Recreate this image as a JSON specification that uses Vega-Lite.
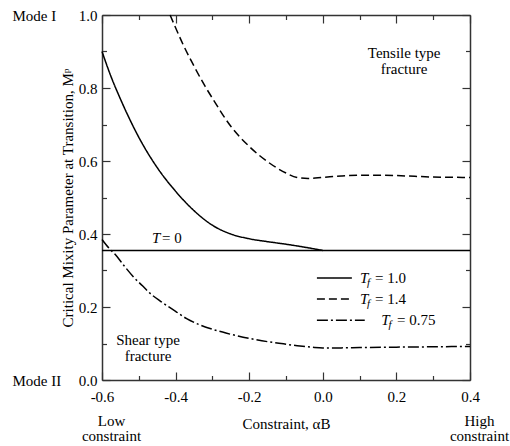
{
  "$schema": "https://vega.github.io/schema/vega-lite/v6.json",
  "width": 368,
  "height": 365,
  "autosize": "none",
  "padding": {"left": 102, "top": 15, "right": 40, "bottom": 66},
  "config": {
    "view": {"stroke": null},
    "font": "Liberation Serif",
    "style": {
      "guide-label": {"font": "Liberation Serif", "fontSize": 15, "fill": "black"},
      "guide-title": {"font": "Liberation Serif", "fontSize": 15, "fontWeight": "normal", "fill": "black"}
    },
    "axis": {
      "labelFont": "Liberation Serif", "labelFontSize": 15, "labelColor": "black",
      "titleFont": "Liberation Serif", "titleFontSize": 15, "titleFontWeight": "normal", "titleColor": "black",
      "domainColor": "#333", "domainWidth": 1.5, "tickColor": "#333", "tickWidth": 1.2, "grid": false
    },
    "text": {"font": "Liberation Serif", "fontSize": 15, "color": "black"}
  },
  "datasets": {
    "curves": [
      {"s": "a", "g": "a", "x": -0.6, "y": 0.9},
      {"s": "a", "g": "a", "x": -0.575, "y": 0.83},
      {"s": "a", "g": "a", "x": -0.55, "y": 0.77},
      {"s": "a", "g": "a", "x": -0.525, "y": 0.715},
      {"s": "a", "g": "a", "x": -0.5, "y": 0.665},
      {"s": "a", "g": "a", "x": -0.45, "y": 0.582},
      {"s": "a", "g": "a", "x": -0.4, "y": 0.517},
      {"s": "a", "g": "a", "x": -0.35, "y": 0.464},
      {"s": "a", "g": "a", "x": -0.3, "y": 0.424},
      {"s": "a", "g": "a", "x": -0.25, "y": 0.4},
      {"s": "a", "g": "a", "x": -0.2, "y": 0.387},
      {"s": "a", "g": "a", "x": -0.15, "y": 0.379},
      {"s": "a", "g": "a", "x": -0.1, "y": 0.372},
      {"s": "a", "g": "a", "x": -0.05, "y": 0.364},
      {"s": "a", "g": "a", "x": 0.0, "y": 0.355},
      {"s": "b", "g": "b", "x": -0.415, "y": 1.0},
      {"s": "b", "g": "b", "x": -0.4, "y": 0.965},
      {"s": "b", "g": "b", "x": -0.38, "y": 0.92},
      {"s": "b", "g": "b", "x": -0.35, "y": 0.86},
      {"s": "b", "g": "b", "x": -0.32, "y": 0.805},
      {"s": "b", "g": "b", "x": -0.3, "y": 0.772},
      {"s": "b", "g": "b", "x": -0.25, "y": 0.695},
      {"s": "b", "g": "b", "x": -0.2, "y": 0.64},
      {"s": "b", "g": "b", "x": -0.15, "y": 0.598},
      {"s": "b", "g": "b", "x": -0.1, "y": 0.567},
      {"s": "b", "g": "b", "x": -0.07, "y": 0.555},
      {"s": "b", "g": "b", "x": -0.04, "y": 0.552},
      {"s": "b", "g": "b", "x": 0.0, "y": 0.555},
      {"s": "b", "g": "b", "x": 0.05, "y": 0.559},
      {"s": "b", "g": "b", "x": 0.1, "y": 0.561},
      {"s": "b", "g": "b", "x": 0.15, "y": 0.561},
      {"s": "b", "g": "b", "x": 0.2, "y": 0.56},
      {"s": "b", "g": "b", "x": 0.25, "y": 0.558},
      {"s": "b", "g": "b", "x": 0.3, "y": 0.556},
      {"s": "b", "g": "b", "x": 0.4, "y": 0.555},
      {"s": "c", "g": "c", "x": -0.6, "y": 0.385},
      {"s": "c", "g": "c", "x": -0.58, "y": 0.36},
      {"s": "c", "g": "c", "x": -0.565, "y": 0.345},
      {"s": "c", "g": "c", "x": -0.54, "y": 0.313},
      {"s": "c", "g": "c", "x": -0.515, "y": 0.283},
      {"s": "c", "g": "c", "x": -0.49, "y": 0.258},
      {"s": "c", "g": "c", "x": -0.47, "y": 0.238},
      {"s": "c", "g": "c", "x": -0.44, "y": 0.215},
      {"s": "c", "g": "c", "x": -0.4, "y": 0.188},
      {"s": "c", "g": "c", "x": -0.37, "y": 0.168},
      {"s": "c", "g": "c", "x": -0.334, "y": 0.151},
      {"s": "c", "g": "c", "x": -0.3, "y": 0.139},
      {"s": "c", "g": "c", "x": -0.261, "y": 0.128},
      {"s": "c", "g": "c", "x": -0.2, "y": 0.114},
      {"s": "c", "g": "c", "x": -0.15, "y": 0.105},
      {"s": "c", "g": "c", "x": -0.107, "y": 0.099},
      {"s": "c", "g": "c", "x": -0.062, "y": 0.093},
      {"s": "c", "g": "c", "x": -0.03, "y": 0.09},
      {"s": "c", "g": "c", "x": 0.0, "y": 0.088},
      {"s": "c", "g": "c", "x": 0.05, "y": 0.088},
      {"s": "c", "g": "c", "x": 0.1, "y": 0.089},
      {"s": "c", "g": "c", "x": 0.2, "y": 0.09},
      {"s": "c", "g": "c", "x": 0.3, "y": 0.091},
      {"s": "c", "g": "c", "x": 0.4, "y": 0.092},
      {"s": "z", "g": "z", "x": -0.6, "y": 0.355},
      {"s": "z", "g": "z", "x": 0.4, "y": 0.355},
      {"s": "a", "g": "La", "x": -0.016, "y": 0.2795},
      {"s": "a", "g": "La", "x": 0.079, "y": 0.2795},
      {"s": "b", "g": "Lb", "x": -0.016, "y": 0.222},
      {"s": "b", "g": "Lb", "x": 0.079, "y": 0.222},
      {"s": "c", "g": "Lc", "x": -0.016, "y": 0.164},
      {"s": "c", "g": "Lc", "x": 0.114, "y": 0.164}
    ],
    "notes": [
      {"x": 0.221, "y": 0.895, "t": "Tensile type\nfracture"},
      {"x": -0.475, "y": 0.11, "t": "Shear type\nfracture"}
    ],
    "labels": [
      {"k": "T", "x": -0.464, "y": 0.389, "t": "T"},
      {"k": "e", "x": -0.437, "y": 0.389, "t": "= 0"},
      {"k": "T", "x": 0.101, "y": 0.2795, "t": "T"},
      {"k": "f", "x": 0.12, "y": 0.2795, "t": "f"},
      {"k": "e", "x": 0.142, "y": 0.2795, "t": "= 1.0"},
      {"k": "T", "x": 0.101, "y": 0.222, "t": "T"},
      {"k": "f", "x": 0.12, "y": 0.222, "t": "f"},
      {"k": "e", "x": 0.142, "y": 0.222, "t": "= 1.4"},
      {"k": "T", "x": 0.1587, "y": 0.164, "t": "T"},
      {"k": "f", "x": 0.1783, "y": 0.164, "t": "f"},
      {"k": "e", "x": 0.2016, "y": 0.164, "t": "= 0.75"}
    ]
  },
  "layer": [
    {
      "data": {"name": "curves"},
      "mark": {"type": "line", "color": "black", "strokeWidth": 1.5, "interpolate": "monotone"},
      "encoding": {
        "x": {
          "field": "x", "type": "quantitative",
          "scale": {"domain": [-0.6, 0.4], "nice": false, "zero": false},
          "axis": {
            "orient": "bottom",
            "values": [-0.6, -0.5, -0.4, -0.3, -0.2, -0.1, 0, 0.1, 0.2, 0.3, 0.4],
            "labelExpr": "abs(round(datum.value*10))%2==0 ? replace(format(datum.value,'.1f'),'−','-') : ''",
            "labelFlush": false, "labelOverlap": false,
            "labelFont": "Liberation Serif", "titleFont": "Liberation Serif",
            "tickSize": {"condition": {"test": "abs(round(datum.value*10))%2==0", "value": -8}, "value": -4.5},
            "labelPadding": 17,
            "title": "Constraint, αB", "titlePadding": 9
          }
        },
        "y": {
          "field": "y", "type": "quantitative",
          "scale": {"domain": [0, 1], "nice": false, "zero": false},
          "axis": {
            "orient": "left",
            "values": [0, 0.1, 0.2, 0.3, 0.4, 0.5, 0.6, 0.7, 0.8, 0.9, 1.0],
            "labelExpr": "round(datum.value*10)%2==0 ? format(datum.value,'.1f') : ''",
            "labelOverlap": false,
            "labelFont": "Liberation Serif", "titleFont": "Liberation Serif",
            "tickSize": {"condition": {"test": "round(datum.value*10)%2==0", "value": -8}, "value": -4.5},
            "labelPadding": 13,
            "title": "Critical Mixity Parameter at Transition, Mᵖ", "titlePadding": 3
          }
        },
        "strokeDash": {
          "field": "s", "type": "nominal",
          "scale": {"domain": ["a", "b", "c", "z"], "range": [[1, 0], [8, 4], [11, 3, 2, 3], [1, 0]]},
          "legend": null
        },
        "detail": {"field": "g"}
      }
    },
    {
      "data": {"name": "notes"},
      "mark": {"type": "text", "align": "center", "baseline": "middle", "lineBreak": "\n", "lineHeight": 16, "font": "Liberation Serif", "fontSize": 15},
      "encoding": {
        "x": {
          "field": "x", "type": "quantitative",
          "scale": {"domain": [-0.6, 0.4], "nice": false, "zero": false},
          "axis": {
            "orient": "bottom", "values": [-0.6, 0.4],
            "labelExpr": "datum.value<0 ? ['Low','constraint'] : ['High','constraint']",
            "ticks": false, "domain": false, "offset": 33, "labelPadding": 0,
            "labelFont": "Liberation Serif",
            "labelFlush": false, "labelOffset": 9, "labelLineHeight": 15, "labelBaseline": "top",
            "title": null
          }
        },
        "y": {
          "field": "y", "type": "quantitative",
          "scale": {"domain": [0, 1], "nice": false, "zero": false},
          "axis": {
            "orient": "left", "values": [0, 1],
            "labelExpr": "datum.value==1 ? 'Mode I' : 'Mode II'",
            "ticks": false, "domain": false, "offset": 90, "labelPadding": 0,
            "labelFont": "Liberation Serif",
            "labelAlign": "left", "title": null
          }
        },
        "text": {"field": "t"}
      }
    },
    {
      "data": {"name": "labels"},
      "transform": [{"filter": "datum.k=='T'"}],
      "mark": {"type": "text", "align": "left", "baseline": "middle", "fontStyle": "italic", "font": "Liberation Serif", "fontSize": 15},
      "encoding": {
        "x": {
          "field": "x", "type": "quantitative",
          "scale": {"domain": [-0.6, 0.4], "nice": false, "zero": false},
          "axis": {
            "orient": "top",
            "values": [-0.6, -0.5, -0.4, -0.3, -0.2, -0.1, 0, 0.1, 0.2, 0.3, 0.4],
            "labels": false,
            "tickSize": {"condition": {"test": "abs(round(datum.value*10))%2==0", "value": -8}, "value": -4.5},
            "title": null
          }
        },
        "y": {
          "field": "y", "type": "quantitative",
          "scale": {"domain": [0, 1], "nice": false, "zero": false},
          "axis": {
            "orient": "right",
            "values": [0, 0.1, 0.2, 0.3, 0.4, 0.5, 0.6, 0.7, 0.8, 0.9, 1.0],
            "labels": false,
            "tickSize": {"condition": {"test": "round(datum.value*10)%2==0", "value": -8}, "value": -4.5},
            "title": null
          }
        },
        "text": {"field": "t"}
      }
    },
    {
      "data": {"name": "labels"},
      "transform": [{"filter": "datum.k=='f'"}],
      "mark": {"type": "text", "align": "left", "baseline": "middle", "fontStyle": "italic", "font": "Liberation Serif", "fontSize": 11, "dy": 5},
      "encoding": {
        "x": {"field": "x", "type": "quantitative", "scale": {"domain": [-0.6, 0.4], "nice": false, "zero": false}, "axis": null},
        "y": {"field": "y", "type": "quantitative", "scale": {"domain": [0, 1], "nice": false, "zero": false}, "axis": null},
        "text": {"field": "t"}
      }
    },
    {
      "data": {"name": "labels"},
      "transform": [{"filter": "datum.k=='e'"}],
      "mark": {"type": "text", "align": "left", "baseline": "middle", "font": "Liberation Serif", "fontSize": 15},
      "encoding": {
        "x": {"field": "x", "type": "quantitative", "scale": {"domain": [-0.6, 0.4], "nice": false, "zero": false}, "axis": null},
        "y": {"field": "y", "type": "quantitative", "scale": {"domain": [0, 1], "nice": false, "zero": false}, "axis": null},
        "text": {"field": "t"}
      }
    }
  ],
  "resolve": {"axis": {"x": "independent", "y": "independent"}}
}
